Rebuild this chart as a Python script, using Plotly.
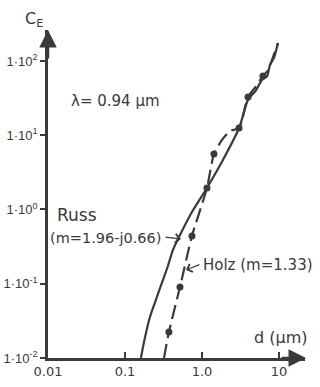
import plotly.graph_objects as go

# ---- data ----
russ_d = [0.161, 0.18, 0.211, 0.255, 0.303, 0.36, 0.42, 0.518, 0.741, 1.16, 1.87, 3.03, 3.96, 5.0, 6.01, 7.0, 7.63, 8.6, 9.7]
russ_ce = [0.01, 0.018, 0.0356, 0.063, 0.104, 0.172, 0.285, 0.454, 0.925, 1.95, 4.64, 12.5, 29.9, 40, 55.5, 62, 88.3, 110, 174]

holz_d = [0.321, 0.372, 0.518, 0.741, 1.16, 1.43, 1.82, 2.31, 3.03, 3.96, 5.0, 6.19, 7.2, 8.1, 9.7]
holz_ce = [0.01, 0.0224, 0.0904, 0.44, 1.95, 5.58, 8.63, 11.4, 12.5, 32.7, 45, 62.8, 75, 103, 174]

holz_dot_d = [0.372, 0.518, 0.741, 1.16, 1.43, 3.03, 3.96, 6.19]
holz_dot_ce = [0.0224, 0.0904, 0.44, 1.95, 5.58, 12.5, 32.7, 62.8]

x_tickvals = [0.01, 0.1, 1, 10]
x_ticktext = ["0.01", "0.1", "1.0", "10"]
y_tickvals = [0.01, 0.1, 1, 10, 100]
y_ticktext = ["1·10<sup>-2</sup>", "1·10<sup>-1</sup>", "1·10<sup>0</sup>", "1·10<sup>1</sup>", "1·10<sup>2</sup>"]

INK = "#3a3a3a"
FONT = "DejaVu Sans"
TICKFONT = "Liberation Sans"

W, H = 320, 387
L, R, T, B = 48, 15, 30, 29
PW, PH = W - L - R, H - T - B


def px(x, y):
    return (x - L) / PW, (H - B - y) / PH


fig = go.Figure()
fig.add_trace(go.Scatter(x=russ_d, y=russ_ce, mode="lines",
                         line=dict(color=INK, width=2.2, shape="spline", smoothing=0.8),
                         showlegend=False))
fig.add_trace(go.Scatter(x=holz_d, y=holz_ce, mode="lines",
                         line=dict(color=INK, width=2.2, shape="spline", smoothing=0.6, dash="14px,6px"),
                         showlegend=False))
fig.add_trace(go.Scatter(x=holz_dot_d, y=holz_dot_ce, mode="markers",
                         marker=dict(color=INK, size=7), showlegend=False))

annotations = []


def text(s, x, y, xanchor="left", size=14, family=FONT):
    ax_, ay_ = px(x, y)
    annotations.append(dict(text=s, x=ax_, y=ay_, xref="paper", yref="paper",
                            xanchor=xanchor, yanchor="middle", showarrow=False,
                            borderpad=0,
                            font=dict(family=family, size=size, color=INK)))


def arrow(x0, y0, x1, y1, head=2, size=1.0, width=1.5):
    tx, ty = px(x1, y1)
    annotations.append(dict(text="", x=tx, y=ty, xref="paper", yref="paper",
                            ax=x0 - x1, ay=y0 - y1, showarrow=True,
                            arrowhead=head, arrowsize=size, arrowwidth=width,
                            arrowcolor=INK))


text("C<sub>E</sub>", 34, 20, xanchor="center", size=16)
text("λ= 0.94 µm", 70, 101, size=15)
text("Russ", 56, 215, size=17)
text("(m=1.96-j0.66)", 49, 238, size=14.5)
text("Holz (m=1.33)", 202, 265, size=15)
text("d (µm)", 253, 337, size=16)
arrow(164, 237, 181, 239, head=4, size=1.3, width=1.3)
arrow(201, 264, 186, 270, head=4, size=1.3, width=1.3)
# axis arrow heads
arrow(48, 60, 48, 30, head=2, size=1.4, width=2.5)
arrow(280, 358, 306, 358, head=2, size=1.4, width=2.5)

fig.update_layout(
    width=W, height=H,
    margin=dict(l=L, r=R, t=T, b=B, autoexpand=False),
    paper_bgcolor="white", plot_bgcolor="white",
    font=dict(family=FONT, color=INK, size=13),
    annotations=annotations,
    xaxis=dict(type="log", range=[-2, 1.338], tickvals=x_tickvals, ticktext=x_ticktext,
               showgrid=False, zeroline=False, showline=True, linecolor=INK, linewidth=2.5,
               ticks="inside", ticklen=6, tickwidth=1.5, tickcolor=INK, automargin=False,
               tickfont=dict(size=13, color=INK), fixedrange=True),
    yaxis=dict(type="log", range=[-2, 2.417], tickvals=y_tickvals, ticktext=y_ticktext,
               showgrid=False, zeroline=False, showline=True, linecolor=INK, linewidth=2.5,
               ticks="outside", ticklen=5, tickwidth=1.5, tickcolor=INK, automargin=False,
               tickfont=dict(family=TICKFONT, size=13, color=INK), fixedrange=True),
)

fig.write_html("out.html", config={"displayModeBar": False})
